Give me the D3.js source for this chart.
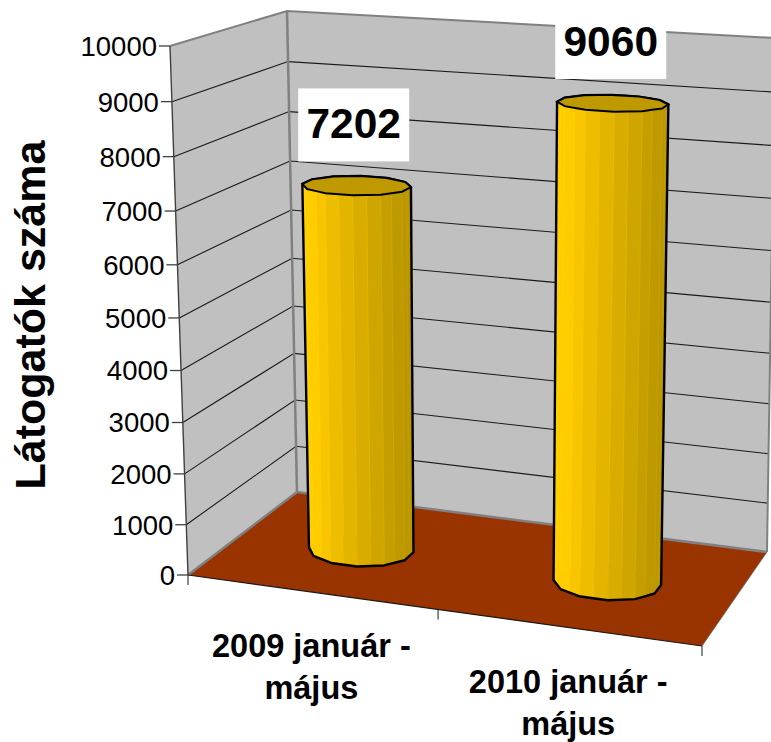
<!DOCTYPE html>
<html>
<head>
<meta charset="utf-8">
<script src="https://cdn.jsdelivr.net/npm/d3@7"></script>
<style>
body { margin: 0; background: white; }
svg { display: block; }
text { font-family: "Liberation Sans", Arial, sans-serif; fill: black; }
</style>
</head>
<body>
<svg width="771" height="742"></svg>
<script>
const categories = [['2009 január -', 'május'], ['2010 január -', 'május']];
const values = [7202, 9060];
const yTicks = [0, 1000, 2000, 3000, 4000, 5000, 6000, 7000, 8000, 9000, 10000];
const yTitle = 'Látogatók száma';

const svg = d3.select('svg');
const width = +svg.attr('width');
const height = +svg.attr('height');

// corners of the box on screen: front left, front right, back right, back left
const floorQuad = [[188, 575], [702, 646], [767, 552], [297, 492]];
const roofQuad = [[170, 46], [716, 78], [775, 38], [287, 11]];

// unit square -> quad, so the floor and roof keep their perspective
const quadMap = q => {
    const [[x0, y0], [x1, y1], [x2, y2], [x3, y3]] = q;
    const dx1 = x1 - x2, dx2 = x3 - x2, sx = x0 - x1 + x2 - x3;
    const dy1 = y1 - y2, dy2 = y3 - y2, sy = y0 - y1 + y2 - y3;
    const den = dx1 * dy2 - dx2 * dy1;
    const g = (sx * dy2 - dx2 * sy) / den;
    const h = (dx1 * sy - sx * dy1) / den;
    const a = x1 - x0 + g * x1, b = x3 - x0 + h * x3;
    const d = y1 - y0 + g * y1, e = y3 - y0 + h * y3;
    return (u, w) => {
        const k = g * u + h * w + 1;
        return [(a * u + b * w + x0) / k, (d * u + e * w + y0) / k];
    };
};
const floorAt = quadMap(floorQuad);
const roofAt = quadMap(roofQuad);

const xScale = d3.scaleBand().domain(d3.range(categories.length)).range([0, 1]);
const yScale = d3.scaleLinear().domain([0, 10000]).range([0, 1]);
// heights shrink a little towards the floor
const foreshorten = t => t / (1.058 - 0.058 * t);

// u: along categories, w: front to back, v: value
const project = (u, w, v) => {
    const f = floorAt(u, w), r = roofAt(u, w), t = foreshorten(yScale(v));
    return [f[0] + (r[0] - f[0]) * t, f[1] + (r[1] - f[1]) * t];
};

const line = d3.line();

// walls
const wallFill = '#c0c0c0', wallEdge = '#808080';
svg.append('path')
    .attr('d', line([project(0, 0, 0), project(0, 0, 10000), project(0, 1, 10000), project(0, 1, 0)]) + 'Z')
    .attr('fill', wallFill);
svg.append('path')
    .attr('d', line([project(0, 1, 0), project(0, 1, 10000), project(1, 1, 10000), project(1, 1, 0)]) + 'Z')
    .attr('fill', wallFill);

// gridlines
svg.append('g').selectAll('path')
    .data(yTicks.slice(1, -1))
    .join('path')
    .attr('d', d => line([project(0, 0, d), project(0, 1, d), project(1, 1, d)]))
    .attr('fill', 'none')
    .attr('stroke', '#1a1a1a')
    .attr('stroke-width', 1.1);

// wall edges
svg.append('path')
    .attr('d', line([project(0, 0, 10000), project(0, 1, 10000), project(1, 1, 10000)]))
    .attr('fill', 'none').attr('stroke', wallEdge).attr('stroke-width', 2);
svg.append('path')
    .attr('d', line([project(0, 1, 10000), project(0, 1, 0)]))
    .attr('fill', 'none').attr('stroke', wallEdge).attr('stroke-width', 2.5);
svg.append('path')
    .attr('d', line([project(1, 1, 10000), project(1, 1, 0)]))
    .attr('fill', 'none').attr('stroke', wallEdge).attr('stroke-width', 2);

// floor
svg.append('path')
    .attr('d', line([project(0, 0, 0), project(1, 0, 0), project(1, 1, 0), project(0, 1, 0)]) + 'Z')
    .attr('fill', '#993300');
svg.append('path')
    .attr('d', line([project(0, 0, 0), project(0, 1, 0), project(1, 1, 0)]))
    .attr('fill', 'none').attr('stroke', wallEdge).attr('stroke-width', 2.5);
svg.append('path')
    .attr('d', line([project(0, 0, 0), project(1, 0, 0)]))
    .attr('fill', 'none').attr('stroke', '#1a1a1a').attr('stroke-width', 1.2);
svg.append('path')
    .attr('d', line([project(1, 0, 0), project(1, 1, 0)]))
    .attr('fill', 'none').attr('stroke', '#666').attr('stroke-width', 0.8);

// y axis line, ticks and labels
svg.append('path')
    .attr('d', line([project(0, 0, 0), project(0, 0, 10000)]))
    .attr('fill', 'none').attr('stroke', '#404040').attr('stroke-width', 1.4);
const yAxis = svg.append('g').selectAll('g').data(yTicks).join('g')
    .attr('transform', d => `translate(${project(0, 0, d)})`);
yAxis.append('line')
    .attr('x1', -11).attr('x2', 0)
    .attr('stroke', '#404040').attr('stroke-width', 1.3);
yAxis.append('text')
    .attr('x', -13)
    .attr('dy', '0.36em')
    .attr('text-anchor', 'end')
    .attr('font-size', 27.5)
    .text(d => d);

svg.append('text')
    .attr('transform', 'translate(45,315) rotate(-90)')
    .attr('text-anchor', 'middle')
    .attr('font-size', 43)
    .attr('font-weight', 'bold')
    .text(yTitle);

// category ticks and labels
svg.append('g').selectAll('line')
    .data([0, 0.5, 1])
    .join('line')
    .attr('x1', d => project(d, 0, 0)[0]).attr('x2', d => project(d, 0, 0)[0])
    .attr('y1', d => project(d, 0, 0)[1]).attr('y2', d => project(d, 0, 0)[1] + 10)
    .attr('stroke', '#404040').attr('stroke-width', 1.2);

svg.append('g').selectAll('text')
    .data(categories)
    .join('text')
    .attr('font-size', 32.5)
    .attr('font-weight', 'bold')
    .attr('text-anchor', 'middle')
    .attr('transform', (d, i) => {
        const p = project(xScale(i) + xScale.bandwidth() / 2, 0, 0);
        return `translate(${p[0]},${p[1] + 65})`;
    })
    .selectAll('tspan')
    .data(d => d)
    .join('tspan')
    .attr('x', 0)
    .attr('y', (d, i) => i * 42)
    .text(d => d);

// cylinders: a 12-sided prism, each side split into two lit strips
const sides = 12, radiusU = 0.103, radiusW = 0.176, depth = 0.47, nudge = 0.002;
const shade = d3.scaleLinear()
    .domain([-1, -0.55, 0, 0.6, 1])
    .range(['#ffcc00', '#ffcc00', '#e8b800', '#cfa600', '#b89600']);

values.forEach((value, i) => {
    const cu = xScale(i) + xScale.bandwidth() / 2 + nudge;
    const g = svg.append('g');
    const corners = d3.range(sides).map(k => {
        const a = (k + 0.5) / sides * 2 * Math.PI;
        return [cu + radiusU * Math.cos(a), depth + radiusW * Math.sin(a)];
    });
    const ring = corners.flatMap((p, k) => {
        const n = corners[(k + 1) % sides];
        return [p, [(p[0] + n[0]) / 2, (p[1] + n[1]) / 2]];
    });
    const bottom = ring.map(p => project(p[0], p[1], 0));
    const top = ring.map(p => project(p[0], p[1], value));

    const faces = ring.map((p, k) => {
        const n = (k + 1) % ring.length;
        return {
            pts: [bottom[k], bottom[n], top[n], top[k]],
            w: (p[1] + ring[n][1]) / 2,
            u: ((p[0] + ring[n][0]) / 2 - cu) / radiusU
        };
    }).sort((a, b) => d3.descending(a.w, b.w));

    g.selectAll('path.face')
        .data(faces)
        .join('path')
        .attr('class', 'face')
        .attr('d', d => line(d.pts) + 'Z')
        .attr('fill', d => shade(d.u))
        .attr('stroke', d => d3.color(shade(d.u)).brighter(0.15))
        .attr('stroke-width', 0.6);

    g.append('path')
        .attr('d', line(d3.polygonHull(bottom.concat(top))) + 'Z')
        .attr('fill', 'none')
        .attr('stroke', 'black')
        .attr('stroke-width', 2.4)
        .attr('stroke-linejoin', 'round');

    g.append('path')
        .attr('d', line(top) + 'Z')
        .attr('fill', '#bf9900')
        .attr('stroke', 'black')
        .attr('stroke-width', 2);
});

// value labels on white boxes
const labels = svg.append('g').selectAll('g')
    .data(values)
    .join('g')
    .attr('transform', (d, i) => {
        const p = project(xScale(i) + xScale.bandwidth() / 2, depth, d);
        return `translate(${p[0] - 2 + i},${p[1] - 60})`;
    });
labels.append('rect')
    .attr('x', -55.5).attr('y', -37)
    .attr('width', 111).attr('height', 73)
    .attr('fill', 'white');
labels.append('text')
    .attr('text-anchor', 'middle')
    .attr('y', -2.5)
    .attr('dy', '0.36em')
    .attr('font-size', 42.5)
    .attr('font-weight', 'bold')
    .text(d => d);
</script>
</body>
</html>
